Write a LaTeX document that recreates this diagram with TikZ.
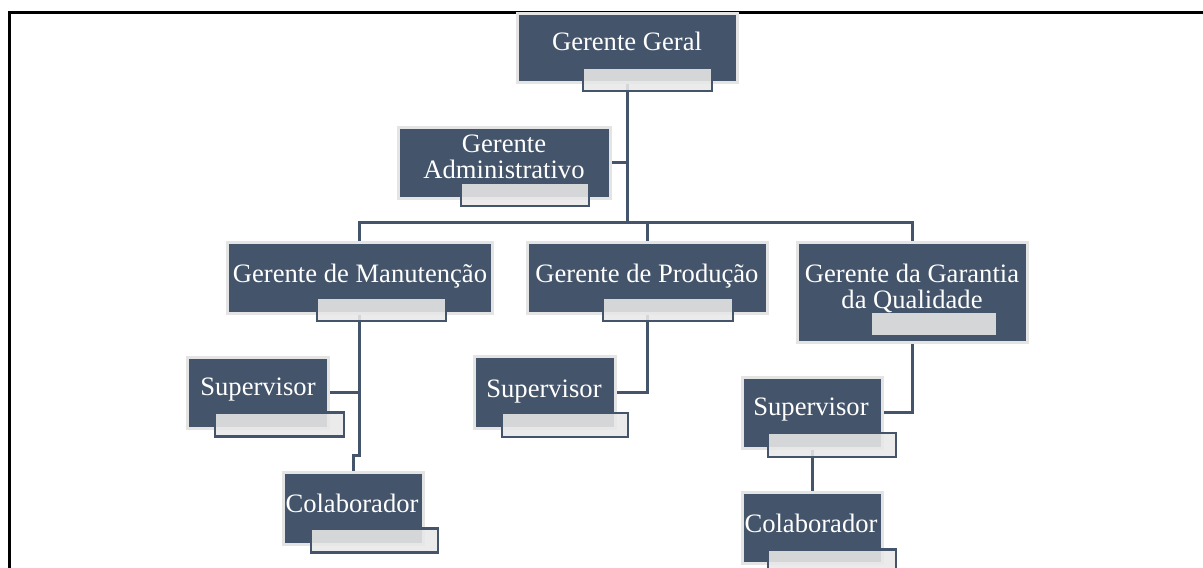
\documentclass[tikz,border=0pt]{standalone}
\usepackage{fontspec}
\setmainfont{Liberation Serif}
\pgfdeclarelayer{background}
\pgfsetlayers{background,main}
\definecolor{slate}{HTML}{44546A}
\definecolor{rim}{HTML}{E4E4E4}
\definecolor{tab}{HTML}{E8E8E8}
\tikzset{
  x=1pt, y=-1pt,
  card/.style={rectangle, fill=slate, draw=rim, line width=3pt, inner sep=0pt, outer sep=0pt},
  tabbox/.style={rectangle, fill=tab, fill opacity=0.88, draw=slate, line width=2.5pt, inner sep=0pt, outer sep=0pt},
  plaintab/.style={rectangle, fill=tab, fill opacity=0.88, inner sep=0pt, outer sep=0pt},
  caption/.style={text=white, font=\fontsize{26.6}{26}\selectfont, inner sep=0pt, anchor=base, align=center},
  link/.style={draw=slate, line width=3pt},
}
\begin{document}
\begin{tikzpicture}
\useasboundingbox (0,0) rectangle (1203,568);
\clip (0,0) rectangle (1203,568);

% frame lines
\draw[line width=3pt] (8,12) -- (1203,12);
\draw[line width=3pt] (9,11) -- (9,568);

% Gerente Geral
\node[card, minimum width=220pt, minimum height=69pt] (gg) at (627,47.5) {};
\node[tabbox, minimum width=129pt, minimum height=23pt] (ggt) at (647.5,79.5) {};
\node[caption] (ggl) at (627,50) {Gerente Geral};

% Gerente Administrativo (base anchor sits on the last line)
\node[card, minimum width=212pt, minimum height=71pt] (ad) at (504,162.5) {};
\node[tabbox, minimum width=128pt, minimum height=23pt] (adt) at (525,194.5) {};
\node[caption] (adl) at (504,178) {Gerente\\Administrativo};

% second level
\node[card, minimum width=265pt, minimum height=71pt] (gm) at (359.5,277.5) {};
\node[tabbox, minimum width=129pt, minimum height=23pt] (gmt) at (381.5,309.5) {};
\node[caption] (gml) at (360,282) {Gerente de Manutenção};

\node[card, minimum width=240pt, minimum height=71pt] (gp) at (647,277.5) {};
\node[tabbox, minimum width=130pt, minimum height=23pt] (gpt) at (668,309.5) {};
\node[caption] (gpl) at (647,282) {Gerente de Produção};

\node[card, minimum width=230pt, minimum height=100pt] (gq) at (912,292) {};
\node[plaintab, minimum width=124pt, minimum height=22pt] (gqt) at (934,324) {};
\node[caption] (gql) at (912,308) {Gerente da Garantia\\da Qualidade};

% third level
\node[card, minimum width=141pt, minimum height=71pt] (s1) at (257.5,392.5) {};
\node[tabbox, minimum width=129pt, minimum height=24pt] (s1t) at (279.5,424.5) {};
\node[caption] (s1l) at (258,395) {Supervisor};

\node[card, minimum width=140pt, minimum height=72pt] (c1) at (353,508) {};
\node[tabbox, minimum width=127pt, minimum height=24pt] (c1t) at (374.5,540.5) {};
\node[caption] (c1l) at (352,512) {Colaborador};

\node[card, minimum width=141pt, minimum height=72pt] (s2) at (544.5,392) {};
\node[tabbox, minimum width=126pt, minimum height=24pt] (s2t) at (565,425) {};
\node[caption] (s2l) at (544,397) {Supervisor};

\node[card, minimum width=140pt, minimum height=71pt] (s3) at (812,412.5) {};
\node[tabbox, minimum width=128pt, minimum height=24pt] (s3t) at (832,445) {};
\node[caption] (s3l) at (811,415) {Supervisor};

\node[card, minimum width=140pt, minimum height=71pt] (c3) at (812,527.5) {};
\node[tabbox, minimum width=128pt, minimum height=24pt] (c3t) at (832,561.5) {};
\node[caption] (c3l) at (811,532) {Colaborador};

% connectors, behind the cards
\coordinate (bus) at (627,222);
\coordinate (jog) at (359.5,455);
\begin{pgfonlayer}{background}
  \draw[link] (gg.south) -- (gg.south |- bus);
  \draw[link] (ad.east) -- (ad.east -| gg.south);
  \draw[link] (gm.north) |- (bus) -| (gq.north);
  \draw[link] (gp.north) -- (gp.north |- bus);
  \draw[link] (gm.south) -- (jog) -| (c1.north);
  \draw[link] (s1.east) -- (s1.east -| gm.south);
  \draw[link] (gp.south) |- (s2.east);
  \draw[link] (gq.south) |- (s3.east);
  \draw[link] (s3.south) -- (c3.north);
\end{pgfonlayer}
\end{tikzpicture}
\end{document}
